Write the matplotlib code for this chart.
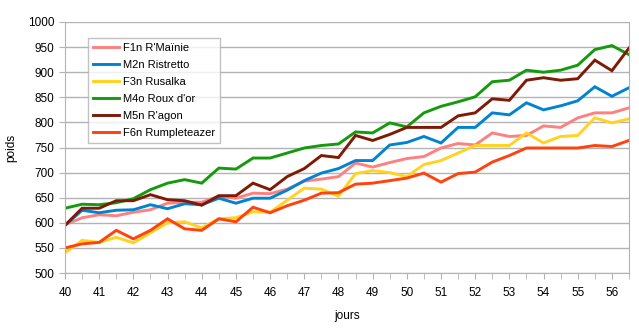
import numpy as np
import matplotlib.pyplot as plt

# %% Data (jours, poids)
jours = [40 + 0.5 * i for i in range(34)]

f1n_rmainie = [596, 610, 616, 614, 621, 626, 639, 641, 641, 653, 649, 659, 658, 667, 683, 687,
               692, 719, 711, 720, 728, 732, 749, 758, 755, 779, 772, 774, 793, 790, 809, 819, 819, 829]
m2n_ristretto = [595, 625, 620, 625, 626, 636, 628, 638, 636, 649, 639, 649, 649, 665, 684, 699,
                 708, 724, 724, 755, 760, 772, 759, 790, 790, 819, 815, 839, 825, 833, 843, 871, 852, 869]
f3n_rusalka = [540, 565, 561, 571, 560, 580, 600, 602, 590, 608, 610, 622, 621, 645, 669, 667,
               653, 698, 704, 700, 692, 716, 724, 739, 754, 754, 754, 779, 759, 772, 774, 809, 799, 807]
m4o_roux_dor = [629, 637, 636, 640, 648, 666, 679, 686, 679, 709, 707, 729, 729, 739, 749, 754,
                757, 781, 779, 799, 791, 819, 832, 841, 851, 881, 884, 904, 900, 904, 914, 945, 953, 935]
m5n_ragon = [595, 629, 629, 644, 644, 656, 646, 644, 635, 654, 654, 679, 666, 692, 708, 734,
             730, 774, 764, 776, 790, 790, 790, 813, 819, 847, 844, 884, 889, 884, 887, 924, 903, 948]
f6n_rumpleteazer = [550, 558, 561, 585, 568, 585, 608, 588, 585, 608, 602, 631, 620, 634, 645, 659,
                    660, 677, 679, 684, 689, 699, 681, 698, 701, 721, 734, 749, 749, 749, 749, 754, 752, 764]

series = [
    ("F1n R'Maïnie", f1n_rmainie, '#ff8080'),
    ("M2n Ristretto", m2n_ristretto, '#0084d1'),
    ("F3n Rusalka", f3n_rusalka, '#ffd320'),
    ("M4o Roux d'or", m4o_roux_dor, '#159a0e'),
    ("M5n R'agon", m5n_ragon, '#7e1a05'),
    ("F6n Rumpleteazer", f6n_rumpleteazer, '#ff420e'),
]

# %% Plot
plt.rcParams['font.family'] = ['Liberation Sans', 'DejaVu Sans']
fig = plt.figure(figsize=(6.39, 3.29), dpi=100)
ax = fig.add_axes([65 / 639, 1 - 273 / 329, 564 / 639, 251 / 329])

for label, values, color in series:
    ax.plot(jours, values, color=color, linewidth=2.1, label=label, solid_joinstyle='miter')

ax.set_xlim(40, 56.5)
ax.set_ylim(500, 1000)
ax.set_xticks(np.arange(40, 57, 1))
ax.set_xticks(np.arange(40, 56.6, 0.5), minor=True)
ax.set_yticks(np.arange(500, 1001, 50))
ax.tick_params(axis='both', which='both', direction='out', colors='#b3b3b3',
               labelcolor='black', labelsize=8.5, length=4)
ax.tick_params(axis='x', which='major', pad=6)
ax.grid(True, axis='y', color='#b3b3b3', linewidth=1)
ax.set_axisbelow(True)
for side in ['left', 'bottom', 'right']:
    ax.spines[side].set_color('#b3b3b3')
ax.spines['top'].set_visible(False)

ax.set_xlabel('jours', fontsize=8.5, labelpad=8)
ax.set_ylabel('poids', fontsize=8.5, labelpad=8)

leg = ax.legend(loc='upper left', bbox_to_anchor=(0.041, 0.936), borderaxespad=0,
                fontsize=8, frameon=True, fancybox=False, handlelength=2.35,
                labelspacing=0.62, borderpad=0.45, handletextpad=0.36)
leg.get_frame().set_edgecolor('#b3b3b3')
leg.get_frame().set_linewidth(1)

fig.savefig('out.png', dpi=100)
